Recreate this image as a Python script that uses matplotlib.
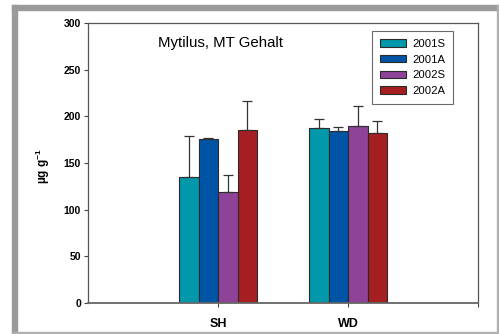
import matplotlib
matplotlib.use("Agg")
import matplotlib.pyplot as plt
import numpy as np
from matplotlib.patches import Rectangle

plt.rcParams['font.family'] = ['Liberation Sans', 'DejaVu Sans']
plt.rcParams['mathtext.fontset'] = 'custom'
plt.rcParams['mathtext.rm'] = 'Liberation Sans'
plt.rcParams['mathtext.bf'] = 'Liberation Sans:bold'

sites = ["SH", "WD"]
series = ["2001S", "2001A", "2002S", "2002A"]
values = {
    "2001S": [135, 188],
    "2001A": [176, 184],
    "2002S": [119, 190],
    "2002A": [185, 182],
}
errors = {
    "2001S": [44, 9],
    "2001A": [1, 4.5],
    "2002S": [18, 21],
    "2002A": [31, 13],
}
colors = ["#0098AA", "#0054A6", "#8E4398", "#A51E22"]

W, H = 499, 334
fig = plt.figure(figsize=(W/100, H/100), dpi=100)
fig.patch.set_facecolor("white")

# gray frame
fig.patches.append(Rectangle((12/W, 0), 5/W, (H-5)/H, transform=fig.transFigure, color="#9a9a9a", zorder=0))
fig.patches.append(Rectangle((12/W, (H-10)/H), (W-12)/W, 5/H, transform=fig.transFigure, color="#9a9a9a", zorder=0))
fig.patches.append(Rectangle((496.5/W, 0), 2.5/W, (H-5)/H, transform=fig.transFigure, color="#b0b0b0", zorder=0))
fig.patches.append(Rectangle((12/W, 0), (W-12)/W, 2.5/H, transform=fig.transFigure, color="#b0b0b0", zorder=0))

ax = fig.add_axes([88/W, (H-303)/H, 390/W, 280/H])
x = np.arange(1, len(sites)+1)
w = 0.15
offsets = (np.arange(len(series)) - 1.5) * w
for i, s in enumerate(series):
    ax.bar(x + offsets[i], values[s], width=w, color=colors[i], edgecolor="#2a2a2a", linewidth=0.8, label=s, zorder=2)
    ax.errorbar(x + offsets[i], values[s], yerr=[np.zeros(len(sites)), errors[s]], fmt="none",
                ecolor="#333333", elinewidth=0.9, capsize=3.3, capthick=0.9, zorder=3)

ax.set_xlim(0, 3)
ax.set_ylim(0, 300)
ax.set_xticks([1, 2, 3])
ax.set_xticklabels(sites + [""], fontweight="bold", fontsize=9)
ax.set_yticks(np.arange(0, 301, 50))
ax.tick_params(axis="y", labelsize=7.5, length=3, width=0.8, color="#444444", pad=2)
ax.tick_params(axis="x", length=3, width=0.8, color="#444444", pad=8)
for lab in ax.get_yticklabels():
    lab.set_fontweight("bold")
for sp in ax.spines.values():
    sp.set_color("#555555")
    sp.set_linewidth(0.9)
ax.spines["bottom"].set_linewidth(1.3)
ax.spines["bottom"].set_color("#666666")

ax.text(0.179, 0.929, "Mytilus, MT Gehalt", transform=ax.transAxes, fontsize=10.8, va="center", ha="left")

leg = ax.legend(loc="upper left", bbox_to_anchor=(0.729, 0.971), fontsize=8.1, frameon=True, fancybox=False,
                edgecolor="#444444", handlelength=2.3, handleheight=0.65, handletextpad=0.55,
                labelspacing=0.5, borderpad=0.7, borderaxespad=0)
leg.get_frame().set_linewidth(0.8)

fig.text(43/W, (H-166)/H, r"µg g$^{\mathbf{-1}}$", rotation=90, fontsize=8.5, fontweight="bold", ha="center", va="center")

fig.savefig("out.png", dpi=100)
